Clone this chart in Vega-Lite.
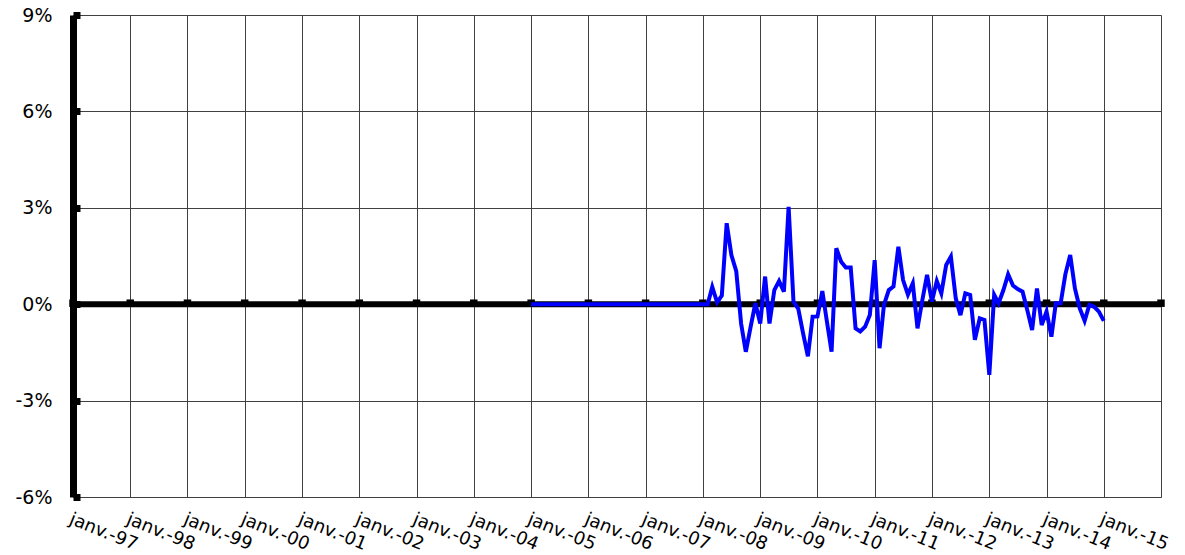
{
  "$schema": "https://vega.github.io/schema/vega-lite/v6.json",
  "width": 1088,
  "height": 482,
  "autosize": {"type": "none"},
  "padding": {"left": 73, "top": 15, "right": 24, "bottom": 58},
  "background": "white",
  "title": {"text": "(%)", "anchor": "middle", "fontSize": 18, "fontWeight": "normal", "font": "Liberation Sans", "offset": 4, "baseline": "bottom", "dx": -11, "color": "black"},
  "config": {"view": {"stroke": null}},
  "datasets": {
    "years": [
      {"date": "1997-01-01", "value": 0}, {"date": "1998-01-01", "value": 0}, {"date": "1999-01-01", "value": 0},
      {"date": "2000-01-01", "value": 0}, {"date": "2001-01-01", "value": 0}, {"date": "2002-01-01", "value": 0},
      {"date": "2003-01-01", "value": 0}, {"date": "2004-01-01", "value": 0}, {"date": "2005-01-01", "value": 0},
      {"date": "2006-01-01", "value": 0}, {"date": "2007-01-01", "value": 0}, {"date": "2008-01-01", "value": 0},
      {"date": "2009-01-01", "value": 0}, {"date": "2010-01-01", "value": 0}, {"date": "2011-01-01", "value": 0},
      {"date": "2012-01-01", "value": 0}, {"date": "2013-01-01", "value": 0}, {"date": "2014-01-01", "value": 0},
      {"date": "2015-01-01", "value": 0}, {"date": "2016-01-01", "value": 0}
    ],
    "series": [
      {"date": "2005-01-01", "value": 0}, {"date": "2005-02-01", "value": 0}, {"date": "2005-03-01", "value": 0},
      {"date": "2005-04-01", "value": 0}, {"date": "2005-05-01", "value": 0}, {"date": "2005-06-01", "value": 0},
      {"date": "2005-07-01", "value": 0}, {"date": "2005-08-01", "value": 0}, {"date": "2005-09-01", "value": 0},
      {"date": "2005-10-01", "value": 0}, {"date": "2005-11-01", "value": 0}, {"date": "2005-12-01", "value": 0},
      {"date": "2006-01-01", "value": 0}, {"date": "2006-02-01", "value": 0}, {"date": "2006-03-01", "value": 0},
      {"date": "2006-04-01", "value": 0}, {"date": "2006-05-01", "value": 0}, {"date": "2006-06-01", "value": 0},
      {"date": "2006-07-01", "value": 0}, {"date": "2006-08-01", "value": 0}, {"date": "2006-09-01", "value": 0},
      {"date": "2006-10-01", "value": 0}, {"date": "2006-11-01", "value": 0}, {"date": "2006-12-01", "value": 0},
      {"date": "2007-01-01", "value": 0}, {"date": "2007-02-01", "value": 0}, {"date": "2007-03-01", "value": 0},
      {"date": "2007-04-01", "value": 0}, {"date": "2007-05-01", "value": 0}, {"date": "2007-06-01", "value": 0},
      {"date": "2007-07-01", "value": 0}, {"date": "2007-08-01", "value": 0}, {"date": "2007-09-01", "value": 0},
      {"date": "2007-10-01", "value": 0}, {"date": "2007-11-01", "value": 0}, {"date": "2007-12-01", "value": 0},
      {"date": "2008-01-01", "value": 0}, {"date": "2008-02-01", "value": 0}, {"date": "2008-03-01", "value": 0.54},
      {"date": "2008-04-01", "value": 0.06}, {"date": "2008-05-01", "value": 0.27}, {"date": "2008-06-01", "value": 2.52},
      {"date": "2008-07-01", "value": 1.53}, {"date": "2008-08-01", "value": 1.03}, {"date": "2008-09-01", "value": -0.6},
      {"date": "2008-10-01", "value": -1.48}, {"date": "2008-11-01", "value": -0.7}, {"date": "2008-12-01", "value": 0.03},
      {"date": "2009-01-01", "value": -0.6}, {"date": "2009-02-01", "value": 0.86}, {"date": "2009-03-01", "value": -0.6},
      {"date": "2009-04-01", "value": 0.44}, {"date": "2009-05-01", "value": 0.72}, {"date": "2009-06-01", "value": 0.39},
      {"date": "2009-07-01", "value": 3.03}, {"date": "2009-08-01", "value": 0.08}, {"date": "2009-09-01", "value": -0.15},
      {"date": "2009-10-01", "value": -0.9}, {"date": "2009-11-01", "value": -1.62}, {"date": "2009-12-01", "value": -0.39},
      {"date": "2010-01-01", "value": -0.38}, {"date": "2010-02-01", "value": 0.41}, {"date": "2010-03-01", "value": -0.5},
      {"date": "2010-04-01", "value": -1.48}, {"date": "2010-05-01", "value": 1.74}, {"date": "2010-06-01", "value": 1.32},
      {"date": "2010-07-01", "value": 1.14}, {"date": "2010-08-01", "value": 1.14}, {"date": "2010-09-01", "value": -0.75},
      {"date": "2010-10-01", "value": -0.85}, {"date": "2010-11-01", "value": -0.7}, {"date": "2010-12-01", "value": -0.34},
      {"date": "2011-01-01", "value": 1.37}, {"date": "2011-02-01", "value": -1.37}, {"date": "2011-03-01", "value": -0.02},
      {"date": "2011-04-01", "value": 0.44}, {"date": "2011-05-01", "value": 0.55}, {"date": "2011-06-01", "value": 1.79},
      {"date": "2011-07-01", "value": 0.75}, {"date": "2011-08-01", "value": 0.3}, {"date": "2011-09-01", "value": 0.65},
      {"date": "2011-10-01", "value": -0.75}, {"date": "2011-11-01", "value": 0.13}, {"date": "2011-12-01", "value": 0.91},
      {"date": "2012-01-01", "value": 0.08}, {"date": "2012-02-01", "value": 0.72}, {"date": "2012-03-01", "value": 0.34},
      {"date": "2012-04-01", "value": 1.22}, {"date": "2012-05-01", "value": 1.48}, {"date": "2012-06-01", "value": 0.18},
      {"date": "2012-07-01", "value": -0.34}, {"date": "2012-08-01", "value": 0.34}, {"date": "2012-09-01", "value": 0.29},
      {"date": "2012-10-01", "value": -1.11}, {"date": "2012-11-01", "value": -0.44}, {"date": "2012-12-01", "value": -0.49},
      {"date": "2013-01-01", "value": -2.2}, {"date": "2013-02-01", "value": 0.29}, {"date": "2013-03-01", "value": 0.03},
      {"date": "2013-04-01", "value": 0.44}, {"date": "2013-05-01", "value": 0.93}, {"date": "2013-06-01", "value": 0.58},
      {"date": "2013-07-01", "value": 0.47}, {"date": "2013-08-01", "value": 0.39}, {"date": "2013-09-01", "value": -0.2},
      {"date": "2013-10-01", "value": -0.8}, {"date": "2013-11-01", "value": 0.49}, {"date": "2013-12-01", "value": -0.65},
      {"date": "2014-01-01", "value": -0.23}, {"date": "2014-02-01", "value": -1.01}, {"date": "2014-03-01", "value": 0.03},
      {"date": "2014-04-01", "value": 0.03}, {"date": "2014-05-01", "value": 0.93}, {"date": "2014-06-01", "value": 1.53},
      {"date": "2014-07-01", "value": 0.49}, {"date": "2014-08-01", "value": -0.13}, {"date": "2014-09-01", "value": -0.52},
      {"date": "2014-10-01", "value": -0.02}, {"date": "2014-11-01", "value": -0.08}, {"date": "2014-12-01", "value": -0.23},
      {"date": "2015-01-01", "value": -0.52}
    ]
  },
  "encoding": {
    "x": {
      "field": "date",
      "type": "temporal",
      "title": null,
      "scale": {"type": "utc", "domain": [{"year": 1997, "month": 1, "date": 1, "utc": true}, {"year": 2016, "month": 1, "date": 1, "utc": true}]},
      "axis": {
        "values": [
          {"year": 1997, "month": 1, "date": 1, "utc": true}, {"year": 1998, "month": 1, "date": 1, "utc": true},
          {"year": 1999, "month": 1, "date": 1, "utc": true}, {"year": 2000, "month": 1, "date": 1, "utc": true},
          {"year": 2001, "month": 1, "date": 1, "utc": true}, {"year": 2002, "month": 1, "date": 1, "utc": true},
          {"year": 2003, "month": 1, "date": 1, "utc": true}, {"year": 2004, "month": 1, "date": 1, "utc": true},
          {"year": 2005, "month": 1, "date": 1, "utc": true}, {"year": 2006, "month": 1, "date": 1, "utc": true},
          {"year": 2007, "month": 1, "date": 1, "utc": true}, {"year": 2008, "month": 1, "date": 1, "utc": true},
          {"year": 2009, "month": 1, "date": 1, "utc": true}, {"year": 2010, "month": 1, "date": 1, "utc": true},
          {"year": 2011, "month": 1, "date": 1, "utc": true}, {"year": 2012, "month": 1, "date": 1, "utc": true},
          {"year": 2013, "month": 1, "date": 1, "utc": true}, {"year": 2014, "month": 1, "date": 1, "utc": true},
          {"year": 2015, "month": 1, "date": 1, "utc": true}, {"year": 2016, "month": 1, "date": 1, "utc": true}
        ],
        "labelExpr": "utcyear(datum.value) >= 2016 ? '' : 'janv.-' + utcFormat(datum.value, '%y')",
        "grid": true, "gridColor": "#404040", "gridWidth": 1, "gridOpacity": 1,
        "domain": true, "domainColor": "#404040", "domainWidth": 1,
        "ticks": false,
        "labelAngle": 22, "labelAlign": "left", "labelBaseline": "top", "labelPadding": 13,
        "labelFont": "DejaVu Sans", "labelFontSize": 18, "labelColor": "black",
        "labelOverlap": false, "labelBound": false, "labelFlush": false
      }
    },
    "y": {
      "field": "value",
      "type": "quantitative",
      "title": null,
      "scale": {"domain": [-6, 9], "nice": false, "zero": false},
      "axis": {
        "values": [-6, -3, 0, 3, 6, 9],
        "labelExpr": "datum.value + '%'",
        "grid": true, "gridColor": "#404040", "gridWidth": 1, "gridOpacity": 1,
        "domain": true, "domainColor": "black", "domainWidth": 7,
        "ticks": true, "tickColor": "black", "tickWidth": 7, "tickSize": -7,
        "labelPadding": 28, "labelFont": "DejaVu Sans", "labelFontSize": 19, "labelColor": "black"
      }
    }
  },
  "layer": [
    {"data": {"name": "years"}, "mark": {"type": "line", "color": "black", "strokeWidth": 6}, "encoding": {}},
    {"data": {"name": "years"}, "mark": {"type": "point", "shape": "square", "filled": true, "color": "black", "opacity": 1, "size": 56, "strokeWidth": 0, "yOffset": -1}, "encoding": {}},
    {"data": {"name": "series"}, "mark": {"type": "line", "color": "#0000FF", "strokeWidth": 4}, "encoding": {}}
  ]
}
